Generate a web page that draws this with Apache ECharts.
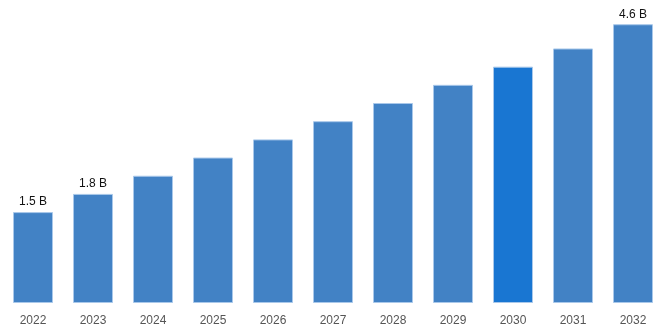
<!DOCTYPE html>
<html>
<head>
<meta charset="utf-8">
<script src="https://cdn.jsdelivr.net/npm/echarts@6/dist/echarts.min.js"></script>
<style>
  html, body { margin: 0; padding: 0; background: #fff; }
  #chart { width: 668px; height: 334px; }
</style>
</head>
<body>
<div id="chart"></div>
<script>
// Market size by year, in billions
var years = ['2022', '2023', '2024', '2025', '2026', '2027', '2028', '2029', '2030', '2031', '2032'];
var values = [1.5, 1.8, 2.1, 2.4, 2.7, 3.0, 3.3, 3.6, 3.9, 4.2, 4.6];
// Years whose value is printed above the bar
var labelledYears = ['2022', '2023', '2032'];
var highlightYear = '2030';

var baseColor = '#4282c5';
var highlightColor = '#1976d2';

var seriesData = years.map(function (y, i) {
  var item = {
    value: values[i],
    itemStyle: { color: y === highlightYear ? highlightColor : baseColor }
  };
  if (labelledYears.indexOf(y) >= 0) {
    item.label = {
      show: true,
      position: 'top',
      distance: 4,
      formatter: function (p) { return p.value + ' B'; },
      color: '#111',
      fontSize: 12,
      fontFamily: 'Liberation Sans, Arial, sans-serif'
    };
  }
  return item;
});

var chart = echarts.init(document.getElementById('chart'), null, { renderer: 'canvas' });
chart.setOption({
  animation: false,
  grid: { left: 3, right: 5, top: 0, bottom: 31, containLabel: false },
  xAxis: {
    type: 'category',
    data: years,
    axisLine: { show: false },
    axisTick: { show: false },
    axisLabel: {
      color: '#555',
      fontSize: 12,
      margin: 12,
      fontFamily: 'Liberation Sans, Arial, sans-serif'
    }
  },
  yAxis: {
    type: 'value',
    min: 0,
    max: 5,
    show: false,
    splitLine: { show: false }
  },
  series: [{
    type: 'bar',
    data: seriesData,
    barWidth: 40,
    itemStyle: { borderColor: '#a9c8ea', borderWidth: 1 },
    label: { show: false }
  }]
});
</script>
</body>
</html>
